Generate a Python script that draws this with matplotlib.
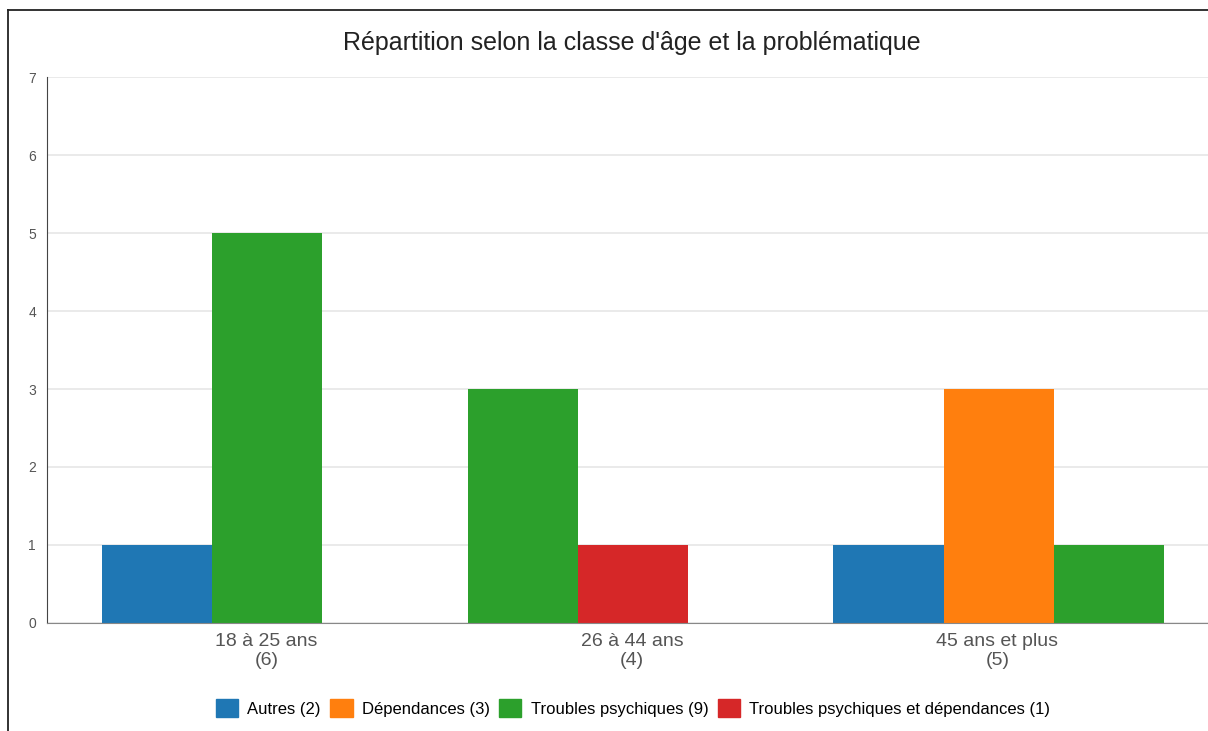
import matplotlib
matplotlib.use("Agg")
import matplotlib.pyplot as plt
from matplotlib.patches import Patch
from matplotlib.lines import Line2D

plt.rcParams['font.family'] = ['Liberation Sans', 'DejaVu Sans']

title = "Répartition selon la classe d'âge et la problématique"
categories = ["18 à 25 ans\n(6)", "26 à 44 ans\n(4)", "45 ans et plus\n(5)"]
series_names = ["Autres (2)", "Dépendances (3)", "Troubles psychiques (9)",
                "Troubles psychiques et dépendances (1)"]
autres = [1, 0, 1]
dependances = [0, 0, 3]
troubles = [5, 3, 1]
troubles_dep = [0, 1, 0]
colors = ["#1f77b4", "#ff7f0e", "#2ca02c", "#d62728"]
yticks = [0, 1, 2, 3, 4, 5, 6, 7]

W, H = 1208, 731
fig = plt.figure(figsize=(W / 100, H / 100), dpi=100)
ax = fig.add_axes([47 / W, (H - 623) / H, (W - 47) / W, (623 - 77) / H])

series = [autres, dependances, troubles, troubles_dep]
bw = 0.301
for i in range(len(categories)):
    x = i - 1.49 * bw
    for s, vals in enumerate(series):
        if vals[i] > 0:
            ax.bar(x, vals[i], width=bw, align='edge', color=colors[s], zorder=3)
            x += bw

ax.set_xlim(-0.600, 2.576)
ax.set_ylim(0, 7)
ax.set_yticks(yticks)
ax.set_yticklabels([str(t) for t in yticks], fontsize=10, color="#555555")
ax.set_xticks(range(len(categories)))
ax.set_xticklabels(categories, fontsize=14, color="#555555", linespacing=1.15)
ax.tick_params(axis='both', length=0)
ax.tick_params(axis='y', pad=8)
ax.tick_params(axis='x', pad=7)
ax.grid(axis='y', color="#e6e6e6", linewidth=1.2, zorder=0)
for sp in ["top", "right"]:
    ax.spines[sp].set_visible(False)
ax.spines["left"].set_color("#444444")
ax.spines["bottom"].set_color("#888888")
ax.spines["left"].set_zorder(4)
ax.spines["bottom"].set_zorder(4)

fig.text(632 / W, 1 - 43 / H, title, ha='center', va='center', fontsize=18, color="#222222")

handles = [Patch(facecolor=c, edgecolor=c) for c in colors]
fig.legend(handles, series_names, loc='center', bbox_to_anchor=(633 / W, 1 - 708 / H),
           ncol=4, frameon=False, fontsize=12, handlelength=1.35, handleheight=1.35,
           handletextpad=0.55, columnspacing=0.55)

# outer frame (top and left edges visible)
fig.add_artist(Line2D([8 / W, 1], [1 - 10 / H, 1 - 10 / H], transform=fig.transFigure,
                      color="#222222", linewidth=1.3))
fig.add_artist(Line2D([8 / W, 8 / W], [0, 1 - 10 / H], transform=fig.transFigure,
                      color="#222222", linewidth=1.3))

fig.savefig("out.png", dpi=100, facecolor="white")
